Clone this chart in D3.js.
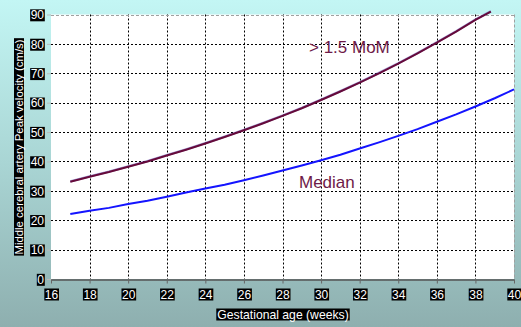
<!DOCTYPE html>
<html>
<head>
<meta charset="utf-8">
<script src="https://cdn.jsdelivr.net/npm/d3@7"></script>
<style>
  html, body { margin: 0; padding: 0; }
  svg { display: block; }
  text { font-family: "Liberation Sans", Arial, sans-serif; }
</style>
</head>
<body>
<svg id="chart" width="521" height="327"></svg>
<script>
// Gestational age (weeks) for each reading
const weeks = [17, 18, 19, 20, 21, 22, 23, 24, 25, 26, 27, 28, 29, 30, 31, 32, 33, 34, 35, 36, 37, 38, 39, 40];
// Median MCA peak systolic velocity (cm/s)
const medianPSV = [22.1, 23.2, 24.2, 25.5, 26.6, 28.0, 29.4, 30.8, 32.1, 33.6, 35.2, 36.9, 38.6, 40.4, 42.3, 44.4, 46.5, 48.7, 51.0, 53.5, 56.0, 58.7, 61.5, 64.5];
// 1.5 multiples of the median (cm/s), drawn up to the top of the scale
const momWeeks = [17, 18, 19, 20, 21, 22, 23, 24, 25, 26, 27, 28, 29, 30, 31, 32, 33, 34, 35, 36, 37, 38, 38.8];
const momPSV = [33.1, 34.8, 36.4, 38.2, 40.0, 42.0, 44.0, 46.1, 48.3, 50.6, 53.0, 55.5, 58.1, 60.9, 63.8, 66.8, 70.0, 73.3, 76.8, 80.4, 84.2, 88.2, 91.0];
// Axis ticks
const xTicks = [16, 18, 20, 22, 24, 26, 28, 30, 32, 34, 36, 38, 40];
const yTicks = [0, 10, 20, 30, 40, 50, 60, 70, 80, 90];

const svg = d3.select("#chart");
const W = 521, H = 327;
const plotL = 51, plotR = 514, plotT = 14.5, plotB = 279;

// Background gradient
const defs = svg.append("defs");
const grad = defs.append("linearGradient").attr("id", "bg").attr("x1", 0).attr("y1", 0).attr("x2", 0).attr("y2", 1);
grad.append("stop").attr("offset", "0%").attr("stop-color", "#c3f6f4");
grad.append("stop").attr("offset", "50%").attr("stop-color", "#a9d5d4");
grad.append("stop").attr("offset", "100%").attr("stop-color", "#8eafaf");
svg.append("rect").attr("width", W).attr("height", H).attr("fill", "url(#bg)");

const x = d3.scaleLinear().domain([16, 40]).range([plotL, plotR]);
const y = d3.scaleLinear().domain([0, 90]).range([plotB, plotT]);

// Plot area
svg.append("rect")
  .attr("x", plotL).attr("y", plotT)
  .attr("width", plotR - plotL).attr("height", plotB - plotT)
  .attr("fill", "#ffffff");

// Grid
const grid = svg.append("g");
grid.selectAll("line.v")
  .data(xTicks.filter(d => d > 16 && d < 40))
  .join("line")
  .attr("x1", d => Math.round(x(d)) + 0.5).attr("x2", d => Math.round(x(d)) + 0.5)
  .attr("y1", plotT).attr("y2", plotB)
  .attr("stroke", "#000").attr("stroke-width", 1).attr("stroke-dasharray", "2,2");
grid.selectAll("line.h")
  .data(yTicks.filter(d => d > 0 && d < 90))
  .join("line")
  .attr("x1", plotL).attr("x2", plotR)
  .attr("y1", d => Math.round(y(d)) + 0.5).attr("y2", d => Math.round(y(d)) + 0.5)
  .attr("stroke", "#000").attr("stroke-width", 1).attr("stroke-dasharray", "2,2");

// Frame: dashed grey top and right edges
svg.append("line")
  .attr("x1", plotL).attr("x2", plotR)
  .attr("y1", Math.round(y(90)) + 0.5).attr("y2", Math.round(y(90)) + 0.5)
  .attr("stroke", "#a0a0a0").attr("stroke-dasharray", "3,2");
svg.append("line")
  .attr("x1", plotR + 0.5).attr("x2", plotR + 0.5)
  .attr("y1", plotT).attr("y2", plotB)
  .attr("stroke", "#a0a0a0").attr("stroke-dasharray", "3,2");

// Bottom axis
const xAxis = svg.append("g")
  .attr("transform", `translate(0,${plotB + 0.5})`)
  .call(d3.axisBottom(x).tickValues(xTicks).tickSize(4).tickSizeOuter(0).tickFormat(d3.format("d")));
xAxis.select(".domain").attr("stroke", "#555").attr("stroke-width", 1.5);
xAxis.selectAll(".tick line").attr("stroke", "#666");
xAxis.selectAll(".tick text")
  .attr("fill", "#fff").attr("font-size", 12).attr("dy", 0).attr("y", 19)
  .attr("font-family", "Liberation Sans, Arial, sans-serif");

// Left axis
const yAxis = svg.append("g")
  .attr("transform", `translate(${plotL},0)`)
  .call(d3.axisLeft(y).tickValues(yTicks).tickSize(4).tickSizeOuter(0).tickFormat(d3.format("d")));
yAxis.select(".domain").remove();
yAxis.selectAll(".tick line").attr("stroke", "#bbb");
yAxis.selectAll(".tick text")
  .attr("fill", "#fff").attr("font-size", 12).attr("x", -7).attr("dy", "0.36em")
  .attr("font-family", "Liberation Sans, Arial, sans-serif");

// Black boxes behind white labels
function boxBehind(textSel, padX, padY) {
  textSel.each(function () {
    const b = this.getBBox();
    d3.select(this.parentNode).insert("rect", () => this)
      .attr("x", b.x - padX).attr("y", b.y - padY + 1)
      .attr("width", b.width + 2 * padX).attr("height", b.height + 2 * padY - 2)
      .attr("fill", "#000")
      .attr("transform", d3.select(this).attr("transform"));
  });
}
boxBehind(xAxis.selectAll(".tick text"), 0.5, 0);
boxBehind(yAxis.selectAll(".tick text"), 0.5, 0);

// Axis titles
const xTitle = svg.append("text")
  .attr("x", 283).attr("y", 318.5)
  .attr("text-anchor", "middle").attr("font-size", 12.2).attr("fill", "#fff")
  .text("Gestational age (weeks)");
boxBehind(xTitle, 1, 0);

const yTitle = svg.append("text")
  .attr("transform", "translate(23,147) rotate(-90)")
  .attr("text-anchor", "middle").attr("font-size", 11.4).attr("fill", "#fff")
  .text("Middle cerebral artery Peak velocity (cm/s)");
boxBehind(yTitle, 1, 0);

// Curves
const line = d3.line().x(d => x(d[0])).y(d => y(d[1]));
const medianData = weeks.map((w, i) => [w, medianPSV[i]]);
const momData = momWeeks.map((w, i) => [w, momPSV[i]]);

svg.append("path").datum(medianData)
  .attr("d", line).attr("fill", "none")
  .attr("stroke", "#1414ff").attr("stroke-width", 2);

svg.append("path").datum(momData)
  .attr("d", line).attr("fill", "none")
  .attr("stroke", "#4a3ab0").attr("stroke-width", 2.3).attr("stroke-opacity", 0.5)
  .attr("transform", "translate(0,-0.4)");
svg.append("path").datum(momData)
  .attr("d", line).attr("fill", "none")
  .attr("stroke", "#660a3a").attr("stroke-width", 2);

// Curve labels
svg.append("text")
  .attr("x", 309).attr("y", 52.5)
  .attr("font-size", 17).attr("fill", "#6e1a48")
  .text("> 1.5 MoM");
svg.append("text")
  .attr("x", 299).attr("y", 187.5)
  .attr("font-size", 17).attr("fill", "#6e1a48")
  .text("Median");
</script>
</body>
</html>
